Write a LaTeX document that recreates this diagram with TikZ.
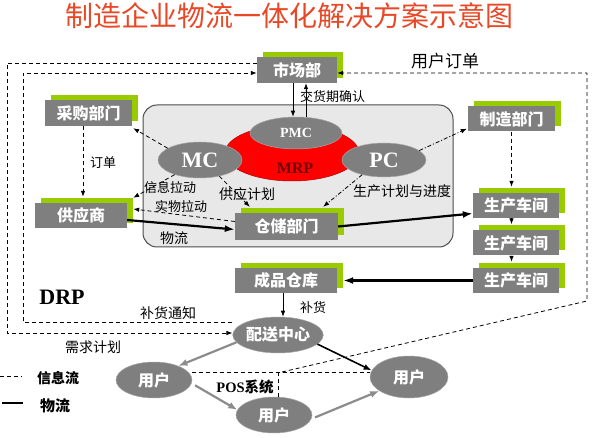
\documentclass[tikz,border=0pt]{standalone}
\usepackage{fontspec}
\setmainfont{Liberation Serif}
\newfontfamily\cjk{Noto Sans CJK SC}
\usetikzlibrary{arrows.meta,shapes.geometric,shadows,calc}
\definecolor{boxgray}{RGB}{127,127,127}
\definecolor{lime}{RGB}{153,204,0}
\definecolor{arrgray}{RGB}{140,140,140}
\definecolor{titlered}{RGB}{232,72,38}
\definecolor{panelgray}{RGB}{232,232,232}
\definecolor{mrptext}{RGB}{110,0,0}
\tikzset{
  gbox/.style={rectangle, fill=boxgray, text=white, inner sep=0pt,
    font=\cjk\bfseries\fontsize{16}{16}\selectfont,
    drop shadow={shadow xshift=6pt, shadow yshift=5pt, fill=lime, opacity=1}},
  gell/.style={ellipse, fill=boxgray, draw=black!35, line width=.5pt, inner sep=0pt, text=white},
  lbl/.style={inner sep=0pt, font=\cjk\fontsize{13}{13}\selectfont},
  lblb/.style={inner sep=0pt, font=\cjk\fontsize{14}{14}\selectfont},
  info/.style={draw=black, line width=.8pt, dash pattern=on 4pt off 3pt},
  dd/.style={draw=black, line width=.8pt, dash pattern=on 4pt off 2pt on 1pt off 2pt},
  arr/.style={-{Latex[length=6pt,width=4.5pt]}},
  flow/.style={line width=2.2pt, -{Latex[length=10pt,width=7pt]}},
  gflow/.style={draw=arrgray, line width=2.2pt, -{Latex[length=9pt,width=7pt]}},
}
\begin{document}
\begin{tikzpicture}[x=1pt,y=-1pt]
\useasboundingbox (0,0) rectangle (597,438);

% title
\node[font=\cjk\fontsize{28}{28}\selectfont, text=titlered, inner sep=0pt] (title) at (289,16) {制造企业物流一体化解决方案示意图};

% panel
\node[draw=black!70, fill=panelgray, line width=1pt, rounded corners=14pt,
      minimum width=310pt, minimum height=142pt, inner sep=0pt] (panel) at (298,176) {};

% MRP group
\node[ellipse, fill=red, draw=red!70!black, line width=.5pt, minimum width=134pt, minimum height=56pt, inner sep=0pt] (mrp) at (292,153) {};
\node[font=\bfseries\fontsize{16}{16}\selectfont, text=mrptext, inner sep=0pt] (mrpl) at (295,168) {MRP};
\node[gell, minimum width=92pt, minimum height=32pt, font=\bfseries\fontsize{14}{14}\selectfont] (pmc) at (296,133) {PMC};
\node[gell, minimum width=84pt, minimum height=36pt, font=\bfseries\fontsize{22}{22}\selectfont] (mc) at (200,160) {MC};
\node[gell, minimum width=84pt, minimum height=34pt, font=\bfseries\fontsize{22}{22}\selectfont] (pc) at (384,160) {PC};

% boxes
\node[gbox, minimum width=80pt, minimum height=26pt] (sc) at (297,70) {市场部};
\node[gbox, minimum width=87pt, minimum height=26pt] (cg) at (88.5,113) {采购部门};
\node[gbox, minimum width=92pt, minimum height=25pt] (gys) at (81,215.5) {供应商};
\node[gbox, minimum width=103pt, minimum height=27pt] (cc) at (286.5,226.5) {仓储部门};
\node[gbox, minimum width=87pt, minimum height=25pt] (zz) at (511.5,119) {制造部门};
\node[gbox, minimum width=86pt, minimum height=25pt] (sj1) at (516,205.5) {生产车间};
\node[gbox, minimum width=86pt, minimum height=25pt] (sj2) at (516,243) {生产车间};
\node[gbox, minimum width=86pt, minimum height=25pt] (sj3) at (516,280.5) {生产车间};
\node[gbox, minimum width=102pt, minimum height=25pt] (cp) at (286,280.5) {成品仓库};

% bottom ellipses
\node[gell, minimum width=86pt, minimum height=36pt, font=\cjk\bfseries\fontsize{16}{16}\selectfont] (ps) at (278,335) {配送中心};
\node[gell, minimum width=76pt, minimum height=36pt, font=\cjk\bfseries\fontsize{16}{16}\selectfont] (u1) at (154,380) {用户};
\node[gell, minimum width=76pt, minimum height=36pt, font=\cjk\bfseries\fontsize{16}{16}\selectfont] (u2) at (274,415) {用户};
\node[gell, minimum width=78pt, minimum height=42pt, font=\cjk\bfseries\fontsize{16}{16}\selectfont] (u3) at (409,377) {用户};

% market <-> PMC
\draw[line width=.7pt, arr] (sc.south -| 293,0) -- (pmc.north -| 293,0);
\draw[line width=.7pt, arr] (pmc.north -| 306,0) -- (sc.south -| 306,0);

% DRP loops
\draw[info, arr] ([yshift=13pt]ps.west) -| (23,73) -- ([yshift=-3pt]sc.west);
\draw[info, arr] ([yshift=7pt]sc.west) -| (7,333) -- ([yshift=2pt]ps.west);

% POS system and user orders
\coordinate (posj) at (278,372);
\draw[info] ([yshift=8pt]u1.east) -- ([yshift=5pt]u3.west);
\draw[info] (posj) -- (u2.north -| posj);
\draw[info, arr] ([xshift=4pt]posj) -- (587,301) -- (587,73) -- ([yshift=-3pt]sc.east);

% material flows
\draw[flow] ([yshift=-4.5pt]gys.east) -- ([yshift=-3pt]cc.west);
\draw[flow] (cc.east) -- ([yshift=-8pt]sj1.west);
\draw[flow] (sj3.west) -- ([xshift=6pt]cp.east);
\draw[line width=.7pt, arr] (cp.south -| 283,0) -- (ps.north -| 283,0);
\draw[line width=1.6pt, -{Latex[length=8pt,width=6pt]}] (ps.-13) -- (u3.170);
\draw[gflow] (ps.190) -- (u1.30);
\draw[gflow, shorten <=4pt] (u1.-5) -- (u2.172);
\draw[gflow, shorten <=4pt] (u2.-6) -- (u3.205);

% information flows
\draw[info, arr, shorten >=6pt] (cg.south -| 83,0) -- (gys.north -| 83,0);
\draw[info, arr] (mc.160) -- ([xshift=1pt,yshift=-2pt]cg.south east);
\draw[info, arr] (mc.210) -- ([xshift=6pt,yshift=5pt]gys.north east);
\draw[info, arr] ([yshift=5pt]cc.west) -- ([xshift=6pt,yshift=6.5pt]gys.east);
\draw[info, arr] (mc.-40) -- ([xshift=15pt,yshift=6pt]cc.north west);
\draw[dd, arr] (pc.214) -- ([xshift=-15pt,yshift=6pt]cc.north east);
\draw[dd, arr] (pc.15) -- ([xshift=-1pt,yshift=3pt]zz.south west);
\draw[info, arr, shorten >=6pt] (zz.south) -- (zz.south |- sj1.north);
\draw[line width=.7pt, arr, shorten >=6pt] ([xshift=-4.5pt]sj1.south) -- ([xshift=-4.5pt]sj2.north);
\draw[line width=.7pt, arr, shorten >=6pt] ([xshift=-4.5pt]sj2.south) -- ([xshift=-4.5pt]sj3.north);

% labels
\node[lbl, anchor=west] (l1) at (300,97) {交货期确认};
\node[lbl] (l2) at (103,163) {订单};
\node[lbl] (l3) at (170,188) {信息拉动};
\node[lbl] (l4) at (181,207) {实物拉动};
\node[lblb] (l5) at (247,194) {供应计划};
\node[lblb] (l6) at (402,191) {生产计划与进度};
\node[lblb] (l7) at (174,238) {物流};
\node[inner sep=0pt, font=\bfseries\fontsize{22}{22}\selectfont] (drp) at (62,297) {DRP};
\node[lblb] (l8) at (168,313) {补货通知};
\node[lblb] (l9) at (93,347) {需求计划};
\node[lbl] (l10) at (313,308) {补货};
\node[inner sep=0pt, font=\cjk\fontsize{17}{17}\selectfont] (l11) at (445,61) {用户订单};
\node[inner sep=0pt, font=\bfseries\fontsize{14.5}{14.5}\selectfont] (l12) at (245,387) {POS{\cjk\bfseries 系统}};

% legend
\coordinate (lg1a) at (0,376);
\coordinate (lg1b) at (22,376);
\draw[info] (lg1a) -- (lg1b);
\node[inner sep=0pt, font=\cjk\bfseries\fontsize{14}{14}\selectfont] (lg1) at (58,378) {信息流};
\coordinate (lg2a) at (2,403);
\coordinate (lg2b) at (23,403);
\draw[line width=2.5pt] (lg2a) -- (lg2b);
\node[inner sep=0pt, font=\cjk\bfseries\fontsize{15}{15}\selectfont] (lg2) at (55,406) {物流};
\end{tikzpicture}
\end{document}
